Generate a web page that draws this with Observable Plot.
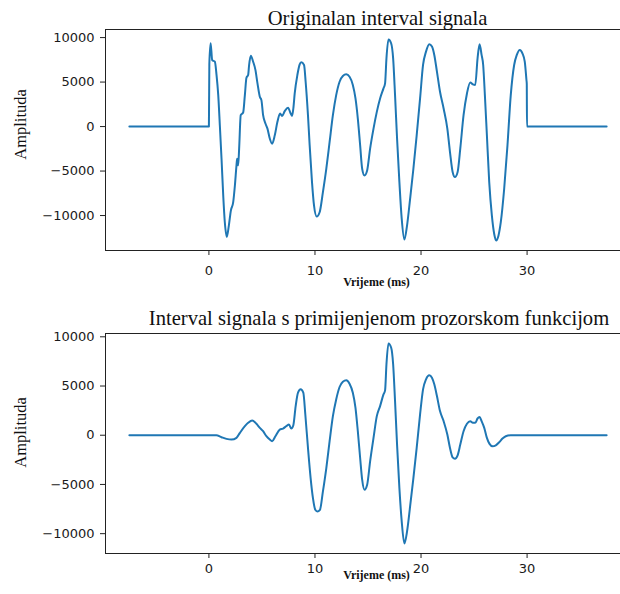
<!DOCTYPE html>
<html>
<head>
<meta charset="utf-8">
<script src="https://cdn.jsdelivr.net/npm/d3@7"></script>
<script src="https://cdn.jsdelivr.net/npm/@observablehq/plot@0.6"></script>
<style>
  html, body { margin: 0; padding: 0; background: white; overflow: hidden; }
  #wrap { position: relative; width: 620px; height: 594px; overflow: hidden; background: white; }
  #wrap svg { display: block; max-width: none; }
</style>
</head>
<body>
<div id="wrap"></div>
<script>
// ---- Data ----
const titleTop = "Originalan interval signala";
const titleBottom = "Interval signala s primijenjenom prozorskom funkcijom";
const xLabel = "Vrijeme (ms)";
const yLabel = "Amplituda";

const xTicks = [0, 10, 20, 30];
const yTicks = [-10000, -5000, 0, 5000, 10000];

// Original signal interval
const timeOrig = [-7.5, 0.0, 0.04, 0.16, 0.31, 0.56, 0.72, 0.88, 1.03, 1.19, 1.35, 1.5, 1.69, 1.88, 2.07, 2.29, 2.45, 2.6, 2.66, 2.76, 2.85, 3.0, 3.23, 3.39, 3.54, 3.7, 3.79, 3.95, 4.17, 4.39, 4.58, 4.8, 4.95, 5.11, 5.33, 5.52, 5.74, 5.96, 6.21, 6.46, 6.71, 6.9, 7.15, 7.46, 7.71, 7.84, 7.96, 8.09, 8.34, 8.56, 8.71, 8.97, 9.12, 9.34, 9.5, 9.72, 9.91, 10.16, 10.44, 10.75, 11.07, 11.38, 11.69, 12.0, 12.32, 12.63, 12.95, 13.26, 13.57, 13.82, 14.04, 14.26, 14.45, 14.67, 14.92, 15.2, 15.52, 15.83, 16.14, 16.46, 16.61, 16.74, 16.93, 17.18, 17.37, 17.55, 17.74, 17.96, 18.18, 18.43, 18.68, 18.97, 19.28, 19.59, 19.91, 20.19, 20.47, 20.78, 21.03, 21.25, 21.5, 21.79, 22.13, 22.48, 22.73, 22.98, 23.2, 23.45, 23.7, 24.01, 24.33, 24.64, 24.89, 25.11, 25.33, 25.52, 25.71, 25.86, 26.02, 26.21, 26.43, 26.68, 26.9, 27.08, 27.3, 27.52, 27.84, 28.15, 28.46, 28.78, 29.03, 29.31, 29.56, 29.78, 29.94, 29.97, 29.99, 37.5];
const ampOrig = [0, 0, 7000, 9360, 7480, 7290, 5790, 3530, 150, -3610, -7750, -10750, -12400, -11130, -9440, -8500, -6620, -4360, -3610, -4360, -2480, 1280, 1580, 3530, 5490, 5790, 6920, 7970, 7290, 6350, 4850, 3350, 2970, 1280, 340, -230, -1350, -1920, -980, 530, 1470, 1200, 1730, 2110, 1470, 1200, 2030, 3720, 5790, 6990, 7220, 6920, 5040, 1280, -2110, -6240, -8870, -10110, -9630, -7370, -4740, -1730, 1280, 3530, 5040, 5680, 5870, 5600, 4660, 3160, 900, -2110, -4740, -5490, -4930, -2480, -230, 1650, 3160, 4290, 4850, 7670, 9780, 9360, 7670, 3530, -1350, -6240, -10380, -12700, -11130, -8120, -4740, -980, 3160, 6920, 8420, 9250, 8990, 8050, 6170, 3910, 2030, -230, -2860, -5110, -5680, -5110, -2480, 1280, 3720, 4960, 4740, 4660, 7670, 9250, 8050, 6920, 3530, -980, -6240, -10000, -12070, -12800, -12260, -10750, -6990, -2110, 3530, 6920, 8050, 8610, 8230, 7290, 5230, 4800, 0, 0];

// Windowed signal interval
const timeWin = [-7.5, 0.7, 1.19, 1.66, 2.13, 2.6, 2.92, 3.39, 3.7, 4.08, 4.48, 4.8, 5.11, 5.42, 5.74, 5.96, 6.27, 6.68, 6.99, 7.3, 7.55, 7.77, 7.96, 8.18, 8.4, 8.65, 8.9, 9.09, 9.34, 9.59, 9.81, 10.03, 10.22, 10.47, 10.75, 11.07, 11.38, 11.69, 12.0, 12.32, 12.63, 12.95, 13.26, 13.57, 13.82, 14.04, 14.26, 14.45, 14.67, 14.92, 15.2, 15.52, 15.83, 16.14, 16.46, 16.61, 16.74, 16.93, 17.18, 17.37, 17.55, 17.74, 17.96, 18.18, 18.43, 18.68, 18.97, 19.28, 19.59, 19.91, 20.19, 20.47, 20.78, 21.03, 21.25, 21.5, 21.79, 22.13, 22.48, 22.73, 22.98, 23.2, 23.45, 23.7, 24.01, 24.33, 24.64, 24.89, 25.11, 25.33, 25.52, 25.71, 25.96, 26.21, 26.46, 26.74, 27.05, 27.37, 27.68, 27.99, 28.46, 37.5];
const ampWin = [0, 0, -200, -370, -440, -270, 240, 920, 1260, 1500, 1160, 750, 410, -100, -440, -610, -100, 580, 680, 920, 1090, 680, 1020, 2960, 4320, 4660, 4320, 2110, -1290, -4350, -6390, -7580, -7750, -7580, -5710, -3330, -610, 1940, 3640, 4900, 5440, 5580, 5240, 4320, 2790, 410, -2310, -4520, -5540, -5030, -2650, -270, 1940, 2960, 4150, 4560, 7210, 9320, 8910, 7210, 3470, -950, -5370, -8770, -11000, -9790, -7240, -4350, -1290, 2110, 4660, 5680, 6090, 5850, 5170, 3980, 2450, 1430, 70, -1290, -2240, -2380, -2040, -950, 410, 1160, 1430, 1260, 1260, 1700, 1840, 1430, 750, -270, -880, -1120, -1020, -710, -340, -100, 0, 0];

// ---- Build ----
const toRows = (ts, vs) => ts.map((t, i) => ({t, v: vs[i]}));
const withMargin = (ext) => { const r = ext[1] - ext[0]; return [ext[0] - 0.05 * r, ext[1] + 0.05 * r]; };
const xDomain = withMargin([timeOrig[0], timeOrig[timeOrig.length - 1]]);
const fmt = d3.format("d");
const serif = "Liberation Serif, Times New Roman, serif";

function panel(rows, title, opts) {
  return Plot.plot({
    width: 640,
    height: 297,
    marginLeft: 105,
    marginRight: 10,
    marginTop: opts.mt,
    marginBottom: opts.mb,
    x: {domain: xDomain},
    y: {domain: withMargin(d3.extent(rows, d => d.v))},
    style: {fontFamily: "DejaVu Sans, sans-serif", fontSize: "13px", color: "#1a1a1a", background: "white", maxWidth: "none"},
    marks: [
      Plot.line(rows, {x: "t", y: "v", stroke: "#1f77b4", strokeWidth: 2, curve: "monotone-x"}),
      Plot.frame({stroke: "#222", strokeWidth: 1}),
      Plot.axisX({ticks: xTicks, tickSize: 5, tickPadding: opts.xpad, tickFormat: fmt, label: null, stroke: "#222"}),
      Plot.axisY({ticks: yTicks, tickSize: 5, tickPadding: 6, tickFormat: fmt, label: null, stroke: "#222"}),
      Plot.text([title], {text: d => d, frameAnchor: "top", lineAnchor: "bottom", textAnchor: "middle",
        dx: opts.tdx, dy: opts.tdy, fontFamily: serif, fontSize: 20.6, fill: "#111"}),
      Plot.text([xLabel], {text: d => d, frameAnchor: "bottom", lineAnchor: "bottom", textAnchor: "middle",
        dx: 8.5, dy: opts.xldy, fontFamily: serif, fontSize: 12, fontWeight: "bold", fill: "#111"}),
      Plot.text([yLabel], {text: d => d, frameAnchor: "left", lineAnchor: "middle", textAnchor: "middle", rotate: -90,
        dx: -85, dy: opts.yldy, fontFamily: serif, fontSize: 16.5, fill: "#111"})
    ]
  });
}

const wrap = document.getElementById("wrap");
wrap.appendChild(panel(toRows(timeOrig, ampOrig), titleTop, {mt: 29, mb: 47, xpad: 10, tdx: 9.5, tdy: -5, xldy: 35, yldy: -15.5}));
wrap.appendChild(panel(toRows(timeWin, ampWin), titleBottom, {mt: 36, mb: 41, xpad: 5, tdx: 11, tdy: -9, xldy: 25.5, yldy: -11}));
</script>
</body>
</html>
